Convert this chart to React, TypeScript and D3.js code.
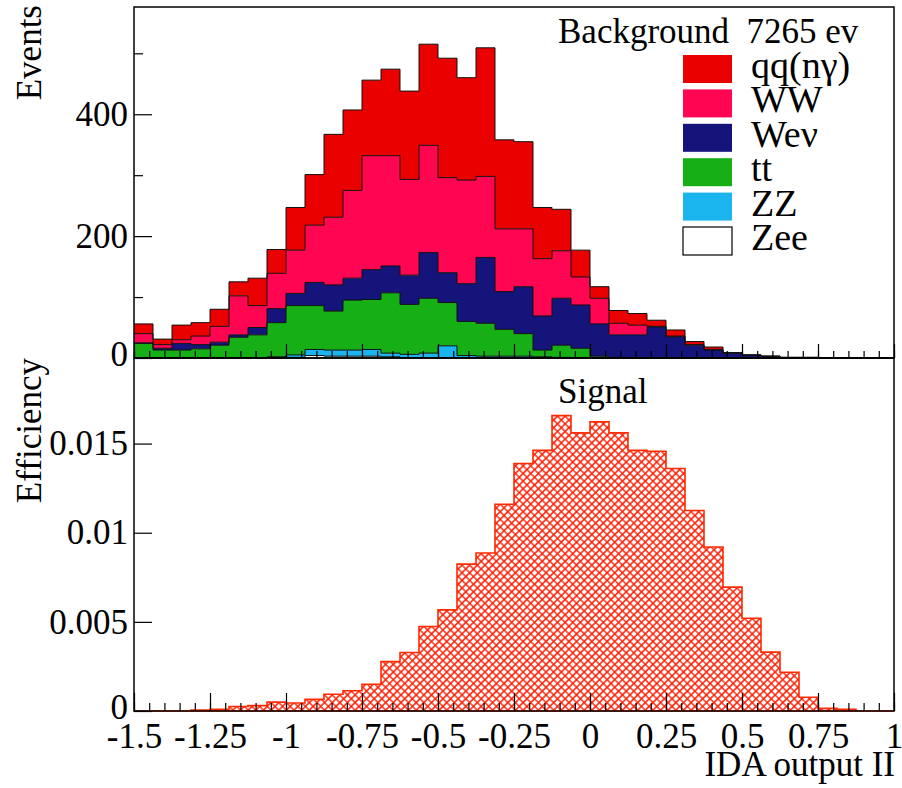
import React, { useEffect, useRef } from 'react';
import * as d3 from 'd3';

// 40 bins of width 0.0625 from -1.5 to 1
const binLow = -1.5;
const binWidth = 0.0625;

// background events per bin, per channel
const qqNgamma = [16, 9, 24, 22, 28, 23, 45, 39, 70, 83, 136, 132, 124, 142, 145, 166, 196, 168, 211, 146, 143, 84, 68, 44, 19, 21, 19, 10, 10, 5, 4, 1, 0, 0, 0, 0, 0, 0, 0, 0];
const ww = [15, 6, 6, 14, 26, 64, 36, 58, 71, 94, 111, 144, 187, 181, 157, 176, 156, 170, 133, 103, 95, 94, 78, 46, 42, 19, 16, 1, 1, 1, 1, 0, 0, 0, 0, 0, 0, 0, 0, 0];
const wenu = [1, 3, 11, 7, 5, 4, 12, 23, 20, 38, 43, 36, 49, 44, 48, 75, 49, 62, 108, 62, 77, 56, 77, 71, 53, 37, 38, 51, 35, 21, 13, 8, 5, 3, 1, 1, 0, 0, 0, 0];
const ttbar = [24, 13, 13, 15, 21, 34, 38, 56, 81, 72, 64, 82, 82, 99, 82, 90, 71, 56, 54, 44, 37, 11, 20, 16, 3, 1, 0, 0, 0, 0, 0, 0, 0, 0, 0, 0, 0, 0, 0, 0];
const zz = [0, 0, 0, 0, 0, 0, 0, 2, 4, 10, 10, 10, 11, 6, 6, 8, 20, 4, 3, 3, 3, 2, 1, 0, 0, 0, 0, 0, 0, 0, 0, 0, 0, 0, 0, 0, 0, 0, 0, 0];
const zee = [0, 0, 0, 0, 0, 0, 0, 0, 1, 4, 3, 3, 3, 2, 0, 0, 0, 0, 0, 0, 0, 0, 0, 0, 0, 0, 0, 0, 0, 0, 0, 0, 0, 0, 0, 0, 0, 0, 0, 0];

// signal efficiency per bin
const signalEff = [0, 0, 0, 0.00005, 0.0001, 0.00025, 0.0003, 0.0005, 0.00045, 0.00065, 0.00094, 0.00114, 0.0015, 0.00277, 0.00328, 0.00474, 0.00567, 0.00824, 0.00886, 0.0116, 0.01388, 0.01462, 0.01657, 0.0156, 0.01622, 0.0156, 0.01462, 0.01457, 0.0136, 0.01125, 0.0092, 0.00695, 0.0052, 0.0033, 0.00217, 0.00077, 0.00015, 0.0001, 0, 0];

const xTickValues = [-1.5, -1.25, -1, -0.75, -0.5, -0.25, 0, 0.25, 0.5, 0.75, 1];
const xTickLabels = ['-1.5', '-1.25', '-1', '-0.75', '-0.5', '-0.25', '0', '0.25', '0.5', '0.75', '1'];
const topYTicks = [0, 200, 400];
const topYLabels = ['0', '200', '400'];
const topYMinor = [100, 300, 500];
const botYTicks = [0, 0.005, 0.01, 0.015];
const botYLabels = ['0', '0.005', '0.01', '0.015'];

// drawn bottom to top
const channels = [
  { key: 'zee', label: 'Zee', values: zee, color: '#ffffff' },
  { key: 'zz', label: 'ZZ', values: zz, color: '#1ab4ee' },
  { key: 'tt', label: 'tt', values: ttbar, color: '#16b016' },
  { key: 'wenu', label: 'Weν', values: wenu, color: '#14147a' },
  { key: 'ww', label: 'WW', values: ww, color: '#ff0552' },
  { key: 'qq', label: 'qq(nγ)', values: qqNgamma, color: '#eb0000' },
];

const FONT = '"Liberation Serif", "Times New Roman", serif';

const App = () => {
  const svgRef = useRef<SVGSVGElement | null>(null);

  useEffect(() => {
    const left = 134, right = 894;
    const topY0 = 7, topY1 = 358, botY1 = 711;

    const svg = d3.select(svgRef.current);
    svg.selectAll('*').remove();

    const x = d3.scaleLinear().domain([-1.5, 1]).range([left, right]);
    const yTop = d3.scaleLinear().domain([0, 576]).range([topY1, topY0]);
    const yBot = d3.scaleLinear().domain([0, 0.0198]).range([botY1, topY1]);

    const defs = svg.append('defs');
    const pat = defs.append('pattern')
      .attr('id', 'hatch')
      .attr('patternUnits', 'userSpaceOnUse')
      .attr('width', 5.4)
      .attr('height', 5.4)
      .attr('patternTransform', 'rotate(45)');
    pat.append('rect').attr('width', 5.4).attr('height', 5.4).attr('fill', '#fff');
    pat.append('path')
      .attr('d', 'M0,2.7H5.4M2.7,0V5.4')
      .attr('stroke', '#ff1a00')
      .attr('stroke-width', 1.5);

    // stacked background
    const rows = qqNgamma.map((_, i) => {
      const r: any = {};
      channels.forEach(c => { r[c.key] = c.values[i]; });
      return r;
    });
    const stacked = d3.stack().keys(channels.map(c => c.key))(rows);

    const xAt = (_: any, i: number) => x(binLow + i * binWidth);
    const area = d3.area<any>()
      .x(xAt)
      .y0(d => yTop(d[0]))
      .y1(d => yTop(d[1]))
      .curve(d3.curveStepAfter);
    const topLine = d3.line<any>()
      .x(xAt)
      .y(d => yTop(d[1]))
      .curve(d3.curveStepAfter);

    const gTop = svg.append('g');
    stacked.forEach((layer, k) => {
      const pts = [...layer, layer[layer.length - 1]];
      gTop.append('path').attr('d', area(pts)).attr('fill', channels[k].color);
    });
    stacked.forEach((layer) => {
      const pts = [...layer, layer[layer.length - 1]];
      gTop.append('path').attr('d', topLine(pts))
        .attr('fill', 'none').attr('stroke', '#111').attr('stroke-width', 1);
    });

    // signal hatched histogram
    const sigPts = [...signalEff, signalEff[signalEff.length - 1]];
    const sigArea = d3.area<number>()
      .x(xAt)
      .y0(yBot(0))
      .y1(d => yBot(d))
      .curve(d3.curveStepAfter);
    svg.append('path').attr('d', sigArea(sigPts))
      .attr('fill', 'url(#hatch)')
      .attr('stroke', '#ff2a00')
      .attr('stroke-width', 1.6);

    // axes
    const minorX = d3.range(-1.5, 1.0001, 0.05);
    const styleAxis = (g: any) => {
      g.select('.domain').remove();
      g.selectAll('line').attr('stroke', '#000').attr('stroke-width', 1.2);
      g.selectAll('text').attr('font-family', FONT).attr('font-size', 35).attr('fill', '#000');
    };

    // top panel x ticks (no labels)
    svg.append('g').attr('transform', `translate(0,${topY1})`)
      .call(d3.axisBottom(x).tickValues(minorX).tickSize(-7).tickFormat(() => ''))
      .call(styleAxis);
    svg.append('g').attr('transform', `translate(0,${topY1})`)
      .call(d3.axisBottom(x).tickValues(xTickValues).tickSize(-14).tickFormat(() => ''))
      .call(styleAxis);

    // bottom panel x axis
    svg.append('g').attr('transform', `translate(0,${botY1})`)
      .call(d3.axisBottom(x).tickValues(minorX).tickSize(-8).tickFormat(() => ''))
      .call(styleAxis);
    svg.append('g').attr('transform', `translate(0,${botY1})`)
      .call(d3.axisBottom(x).tickValues(xTickValues).tickSize(-18).tickPadding(12)
        .tickFormat((_, i) => xTickLabels[i]))
      .call(styleAxis);

    // y axes
    svg.append('g').attr('transform', `translate(${left},0)`)
      .call(d3.axisLeft(yTop).tickValues(topYMinor).tickSize(-9).tickFormat(() => ''))
      .call(styleAxis);
    svg.append('g').attr('transform', `translate(${left},0)`)
      .call(d3.axisLeft(yTop).tickValues(topYTicks).tickSize(-18).tickPadding(6)
        .tickFormat((_, i) => topYLabels[i]))
      .call(styleAxis)
      .selectAll('text').attr('dy', (d: any) => (d === 0 ? '0.22em' : '0.32em'));
    svg.append('g').attr('transform', `translate(${left},0)`)
      .call(d3.axisLeft(yBot).tickValues(botYTicks).tickSize(-18).tickPadding(6)
        .tickFormat((_, i) => botYLabels[i]))
      .call(styleAxis)
      .selectAll('text').attr('dy', (d: any) => (d === 0 ? '0.2em' : '0.32em'));

    // frames
    svg.append('rect')
      .attr('x', left).attr('y', topY0)
      .attr('width', right - left).attr('height', topY1 - topY0)
      .attr('fill', 'none').attr('stroke', '#000').attr('stroke-width', 1.5);
    svg.append('rect')
      .attr('x', left).attr('y', topY1)
      .attr('width', right - left).attr('height', botY1 - topY1)
      .attr('fill', 'none').attr('stroke', '#000').attr('stroke-width', 1.5);

    // titles
    const text = (tx: number, ty: number, s: string, size = 35, anchor = 'start', rot = 0) =>
      svg.append('text')
        .attr('transform', `translate(${tx},${ty}) rotate(${rot})`)
        .attr('font-family', FONT).attr('font-size', size)
        .attr('text-anchor', anchor)
        .style('white-space', 'pre')
        .text(s);

    text(41, 5, 'Events', 35, 'end', -90);
    text(41, 358, 'Efficiency', 35, 'end', -90);
    text(895, 776, 'IDA output II', 35, 'end');
    text(558, 43, 'Background  7265 ev');
    text(558, 403, 'Signal');

    // legend, top to bottom
    const legendItems = [...channels].reverse();
    legendItems.forEach((c, i) => {
      const by = 55 + i * 34.4;
      svg.append('rect')
        .attr('x', 683).attr('y', by).attr('width', 49).attr('height', 28)
        .attr('fill', c.color)
        .attr('stroke', c.key === 'zee' ? '#000' : 'none')
        .attr('stroke-width', 1.2);
      text(751, by + 23, c.label, 38);
    });
  }, []);

  return (
    <svg
      ref={svgRef}
      width={902}
      height={788}
      style={{ position: 'absolute', left: 0, top: 0, background: '#fff' }}
    />
  );
};

export default App;
